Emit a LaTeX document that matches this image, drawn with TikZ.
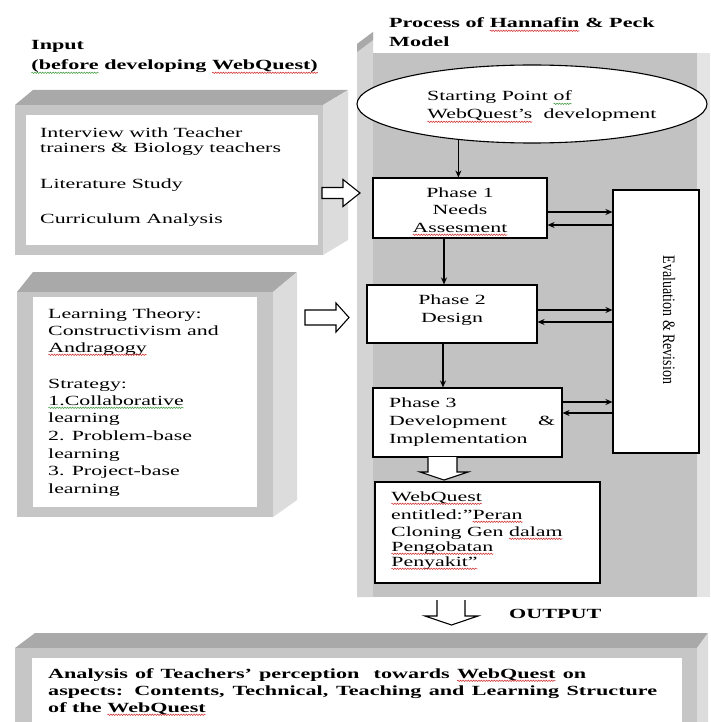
\documentclass[tikz,border=0pt]{standalone}
\usepackage{fontspec}
\setmainfont{Liberation Serif}[FakeStretch=1.56, BoldFeatures={FakeStretch=1.58}]
\newfontfamily\plainserif{Liberation Serif}
\usetikzlibrary{arrows.meta,shapes.geometric,decorations.pathmorphing}
\definecolor{frontc}{HTML}{C6C6C6}
\definecolor{topc}{HTML}{A9A9A9}
\definecolor{sidec}{HTML}{DCDCDC}
\definecolor{panelc}{HTML}{C2C2C2}
\definecolor{panelleft}{HTML}{D4D4D4}
\definecolor{panelright}{HTML}{E4E4E4}
\definecolor{squigred}{HTML}{D02828}
\definecolor{squiggreen}{HTML}{3C9A3C}
\newcommand\wavyword[2]{\tikz[baseline=(ww.base)]{\node[inner sep=0pt,outer sep=0pt,anchor=base west,
    minimum width=0pt, minimum height=0pt, draw=none, fill=none, align=left] (ww) at (0,0) {#2};
  \draw[#1, line width=0.5pt, decorate, decoration={snake, amplitude=0.7pt, segment length=2.6pt}]
    ([yshift=-2.8pt]ww.base west) -- ([yshift=-2.8pt]ww.base east);}}
\newcommand\rw[1]{\wavyword{squigred}{#1}}
\newcommand\gw[1]{\wavyword{squiggreen}{#1}}
\begin{document}
\begin{tikzpicture}[x=1pt,y=-1pt,
  txt/.style={inner sep=0pt, anchor=base west, font=\fontsize{14}{16}\selectfont},
  ctxt/.style={txt, anchor=base},
  btxt/.style={txt, font=\fontsize{14}{16}\selectfont\bfseries},
  inner/.style={rectangle, fill=white, inner sep=0pt, draw=none},
  procbox/.style={rectangle, draw, line width=1.1pt, fill=white, inner sep=0pt},
  arr/.style={line width=1.1pt, -{Stealth[length=7pt,width=6pt]}},
  blk/.style={draw, line width=1.1pt, fill=white, line join=miter},
]
\useasboundingbox (0,0) rectangle (710,722);
\fill[white] (0,0) rectangle (710,722);

% ---- input box 1
\fill[topc] (15,105) -- (33,90) -- (348,90) -- (323,105) -- cycle;
\fill[sidec] (323,105) -- (348,90) -- (348,240) -- (323,255) -- cycle;
\fill[frontc] (15,105) rectangle (323,255);
\node[inner, minimum width=292, minimum height=130] (in1) at (172,180) {};

% ---- input box 2
\fill[topc] (17,292) -- (33,272) -- (297,272) -- (273,292) -- cycle;
\fill[sidec] (273,292) -- (297,272) -- (297,500) -- (273,517) -- cycle;
\fill[frontc] (17,292) rectangle (273,517);
\node[inner, minimum width=224, minimum height=210] (in2) at (145,402) {};

% ---- process panel
\fill[panelleft] (357,44) -- (373,32) -- (373,597) -- (357,597) -- cycle;
\fill[topc] (357,44) -- (373,32) -- (373,40) -- (357,52) -- cycle;
\fill[panelc] (373,53) rectangle (697,597);
\fill[panelright] (697,53) rectangle (710,597);

% ---- output box
\fill[topc] (15,648) -- (35,633) -- (708,633) -- (697,648) -- cycle;
\fill[sidec] (697,648) -- (708,633) -- (708,722) -- (697,722) -- cycle;
\fill[frontc] (15,648) rectangle (697,722);
\node[inner, minimum width=650, minimum height=64] (out) at (357,690) {};

% ---- titles
\node[btxt] (inp1) at (31,50) {Input};
\node[btxt] (inp2) at (31,70) {\gw{(before} developing \rw{WebQuest)}};
\node[btxt] (pt1) at (389,28) {Process of \rw{Hannafin} \& Peck};
\node[btxt] (pt2) at (389,47) {Model};

% ---- input texts
\node[txt] (a1) at (40,138) {Interview with Teacher};
\node[txt] (a2) at (40,153) {trainers \& Biology teachers};
\node[txt] (a3) at (40,188) {Literature Study};
\node[txt] (a4) at (40,223) {Curriculum Analysis};

\node[txt] (b1) at (48,318) {Learning Theory:};
\node[txt] (b2) at (48,335) {Constructivism and};
\node[txt] (b3) at (48,352) {\rw{Andragogy}};
\node[txt] (b4) at (48,388) {Strategy:};
\node[txt] (b5) at (48,405) {\gw{1.Collaborative}};
\node[txt] (b6) at (48,422) {learning};
\node[txt] (b7) at (48,440) {2. Problem-base};
\node[txt] (b8) at (48,458) {learning};
\node[txt] (b9) at (48,475) {3. Project-base};
\node[txt] (b10) at (48,493) {learning};

% ---- process nodes
\node[ellipse, draw, line width=1.1pt, fill=white, minimum width=350, minimum height=78, inner sep=0pt] (ell) at (532,104) {};
\node[txt] (e1) at (427,101) {Starting Point \gw{of}};
\node[txt] (e2) at (427,119) {\rw{WebQuest's}\ \ development};

\node[procbox, minimum width=174, minimum height=60] (p1) at (460,208) {};
\node[ctxt] (p1a) at (460,197) {Phase 1};
\node[ctxt] (p1b) at (460,214) {Needs};
\node[ctxt] (p1c) at (460,232) {\rw{Assesment}};

\node[procbox, minimum width=170, minimum height=58] (p2) at (452,314) {};
\node[ctxt] (p2a) at (452,304) {Phase 2};
\node[ctxt] (p2b) at (452,322) {Design};

\node[procbox, minimum width=189, minimum height=69] (p3) at (467.5,422.5) {};
\node[txt] (p3a) at (389,407) {Phase 3};
\node[txt] (p3b) at (389,425) {Development};
\node[txt] (p3c) at (538,425) {\&};
\node[txt] (p3d) at (389,443) {Implementation};

\node[procbox, minimum width=86, minimum height=263] (ev) at (656,321.5) {};
\node[inner sep=0pt, rotate=-90, font=\plainserif\fontsize{14}{16}\selectfont] (evt) at (669,320)
  {\scalebox{1}[1.25]{Evaluation \& Revision}};

\node[procbox, minimum width=225, minimum height=101] (wq) at (487.5,532.5) {};
\node[txt] (w1) at (391,501) {\rw{WebQuest}};
\node[txt] (w2) at (391,519) {entitled:"\rw{Peran}};
\node[txt] (w3) at (391,536) {Cloning Gen \rw{dalam}};
\node[txt] (w4) at (391,551) {\rw{Pengobatan}};
\node[txt] (w5) at (391,566) {\rw{Penyakit"}};

\node[btxt] (outl) at (509,618) {OUTPUT};

\node[btxt] (o1) at (48,678) {\makebox[538pt][s]{Analysis of Teachers’ perception\ \ towards \rw{WebQuest} on}};
\node[btxt] (o2) at (48,695) {\makebox[609pt][s]{aspects: Contents, Technical, Teaching and Learning Structure}};
\node[btxt] (o3) at (48,712) {of the \rw{WebQuest}};

% ---- connectors
\draw[arr] (ell.206) -- (ell.206 |- p1.north);
\draw[arr] ([xshift=-16pt]p1.south) -- ([xshift=-16pt]p1.south |- p2.north);
\draw[arr] ([xshift=-9pt]p2.south) -- ([xshift=-9pt]p2.south |- p3.north);

\draw[arr] ([yshift=-4pt]p1.east) -- ([yshift=-4pt]p1.east -| ev.west);
\draw[arr] ([yshift=-17pt]p1.east -| ev.west) -- ([yshift=-17pt]p1.east);
\draw[arr] ([yshift=4pt]p2.east) -- ([yshift=4pt]p2.east -| ev.west);
\draw[arr] ([yshift=-8pt]p2.east -| ev.west) -- ([yshift=-8pt]p2.east);
\draw[arr] ([yshift=20.5pt]p3.east) -- ([yshift=20.5pt]p3.east -| ev.west);
\draw[arr] ([yshift=9.5pt]p3.east -| ev.west) -- ([yshift=9.5pt]p3.east);

% ---- block arrows
\coordinate (ba1) at (322,193);
\draw[blk] (ba1) ++(0,-5.5) -- ++(21,0) -- ++(0,-8) -- (360,193) -- (343,206.5) -- ++(0,-8) -- ++(-21,0) -- cycle;
\coordinate (ba2) at (305,317.5);
\draw[blk] (ba2) ++(0,-7.5) -- ++(31,0) -- ++(0,-7) -- (349,317.5) -- (336,332) -- ++(0,-7) -- ++(-31,0) -- cycle;
\draw[blk] (428,457) -- (428,472) -- (420,472) -- (444,480) -- (468,472) -- (457,472) -- (457,457);
\draw[blk] (437,600) -- (437,616) -- (425,616) -- (451.5,625) -- (478,616) -- (465,616) -- (465,600);
\end{tikzpicture}
\end{document}
